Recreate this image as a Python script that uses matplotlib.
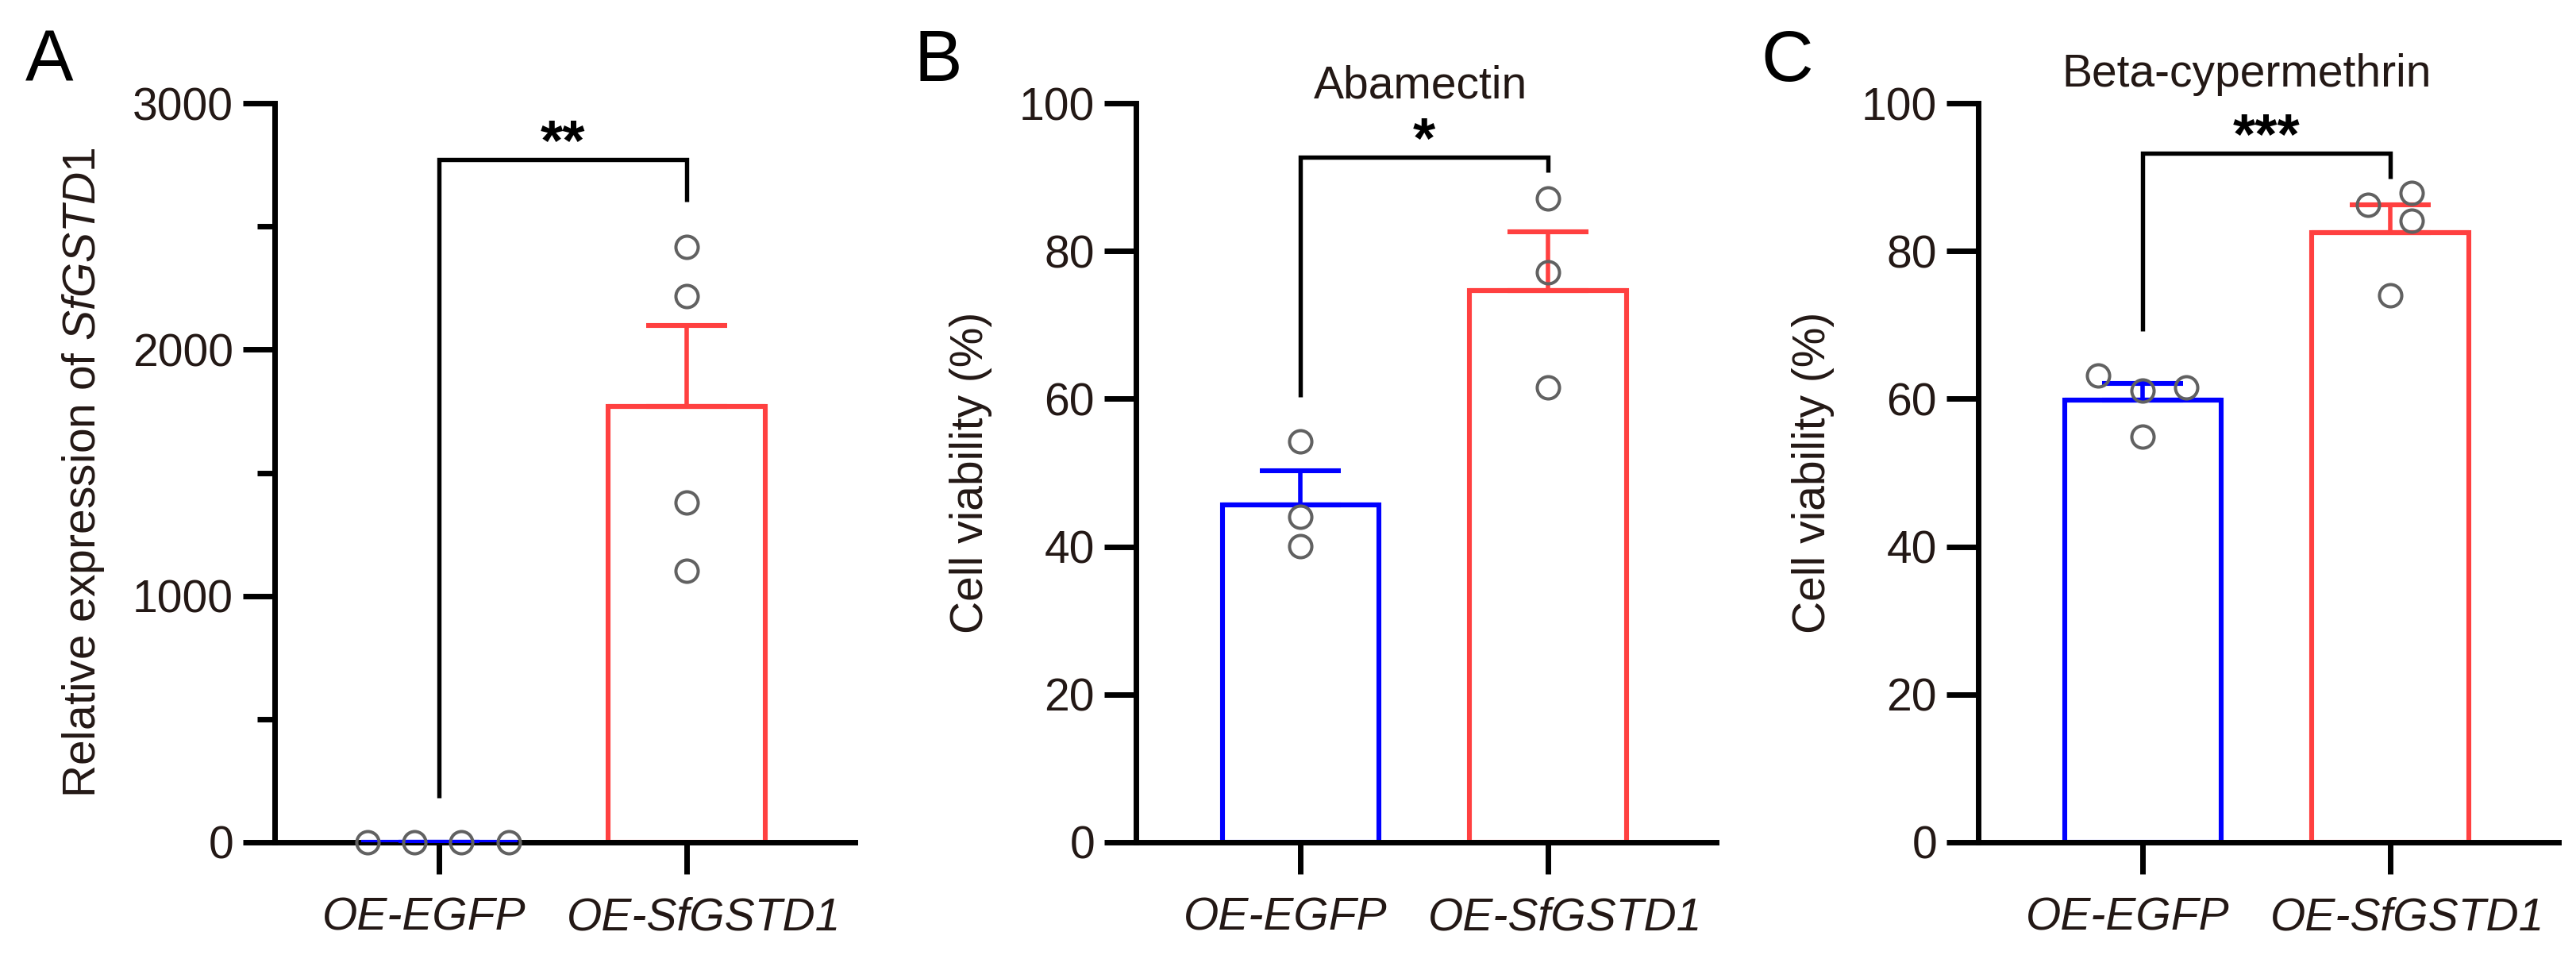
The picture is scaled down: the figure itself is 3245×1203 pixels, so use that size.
import matplotlib
matplotlib.use("Agg")
import matplotlib.pyplot as plt
from matplotlib.ticker import MultipleLocator

plt.rcParams['font.family'] = ['Liberation Sans', 'DejaVu Sans']
plt.rcParams['mathtext.fontset'] = 'custom'
plt.rcParams['mathtext.rm'] = 'Liberation Sans'
plt.rcParams['mathtext.it'] = 'Liberation Sans:italic'

# ---------------- data ----------------
groups = ["OE-EGFP", "OE-SfGSTD1"]

# Panel A: relative expression of SfGSTD1
a_means = [1.0, 1768.0]
a_sem = [0.0, 330.0]
a_egfp_pts = [1.0, 1.0, 1.0, 1.0]
a_sfg_pts = [2417.0, 2216.0, 1378.0, 1102.0]
a_bracket = [182.0, 2772.0, 2599.0]   # left end, top, right end
a_sig = "**"

# Panel B: Abamectin, cell viability (%)
b_means = [45.6, 74.7]
b_sem = [4.7, 7.9]
b_egfp_pts = [54.2, 44.0, 40.1]
b_sfg_pts = [87.1, 77.1, 61.5]
b_bracket = [60.3, 92.7, 90.7]
b_sig = "*"

# Panel C: Beta-cypermethrin, cell viability (%)
c_means = [59.8, 82.5]
c_sem = [2.3, 3.7]
c_egfp_pts = [63.2, 61.1, 61.6, 54.9]
c_sfg_pts = [86.2, 87.9, 84.1, 74.0]
c_bracket = [69.2, 93.2, 89.8]
c_sig = "***"

# ---------------- layout / style ----------------
W, H = 3245, 1203
DPI = 200
PT = 72.0 / DPI   # points per pixel
fig = plt.figure(figsize=(W / DPI, H / DPI), dpi=DPI)

TXT = '#231815'
BLUE = '#0000FF'
RED = '#FF4040'
PTC = '#616161'
FS = 20.5

ax_bottom = 1 - 1061 / H
ax_height = (1061 - 130) / H
ax_lefts = [346, 1431, 2492]
ax_width = 731 / W

# jitter offsets (layout only)
a_off = ([-0.29, -0.10, 0.09, 0.28], [0.0, 0.0, 0.0, 0.0])
b_off = ([0.0, 0.0, 0.0], [0.0, 0.0, 0.0])
c_off = ([-0.18, 0.0, 0.175, 0.0], [-0.09, 0.087, 0.087, 0.0])

# category label offsets in pixels (dx, baseline below axis)
label_dx_px = [-19, 22]
label_dy_px = 111

panels = [
    dict(means=a_means, sem=a_sem, pts=(a_egfp_pts, a_sfg_pts), off=a_off,
         br=a_bracket, sig=a_sig, ylim=3000, major=1000, minor=500,
         ylabel="Relative expression of $\\mathit{SfGSTD1}$", title=None, letter="A",
         letter_x=32),
    dict(means=b_means, sem=b_sem, pts=(b_egfp_pts, b_sfg_pts), off=b_off,
         br=b_bracket, sig=b_sig, ylim=100, major=20, minor=None,
         ylabel="Cell viability (%)", title=("Abamectin", 0.486, 100.7), letter="B",
         letter_x=1151),
    dict(means=c_means, sem=c_sem, pts=(c_egfp_pts, c_sfg_pts), off=c_off,
         br=c_bracket, sig=c_sig, ylim=100, major=20, minor=None,
         ylabel="Cell viability (%)", title=("Beta-cypermethrin", 0.42, 102.25), letter="C",
         letter_x=2218),
]

colors = [BLUE, RED]
xpos = [0, 1]
bw = 0.633

for p, left in zip(panels, ax_lefts):
    ax = fig.add_axes([left / W, ax_bottom, ax_width, ax_height])
    ax.set_xlim(-0.665, 1.68)
    ax.set_ylim(0, p['ylim'])
    for s in ['top', 'right']:
        ax.spines[s].set_visible(False)
    for s in ['left', 'bottom']:
        ax.spines[s].set_linewidth(2.5)
        ax.spines[s].set_color('black')

    # bars
    ax.bar(xpos, p['means'], width=bw, fill=False, edgecolor=colors,
           linewidth=2.2, zorder=2)
    ax.hlines(p['means'], [x - bw / 2 for x in xpos], [x + bw / 2 for x in xpos],
              colors=colors, linewidth=2.2, zorder=3)
    # error bars (upper only)
    for i in range(2):
        ax.errorbar(xpos[i], p['means'][i], yerr=[[0], [p['sem'][i]]], fmt='none',
                    ecolor=colors[i], elinewidth=2.0, capsize=18.4, capthick=2.2,
                    zorder=3)
    # points
    for i in range(2):
        xs = [xpos[i] + o for o in p['off'][i]]
        ax.plot(xs, p['pts'][i], linestyle='none', marker='o', markersize=10.1,
                markerfacecolor='none', markeredgecolor=PTC, markeredgewidth=1.45,
                zorder=4, clip_on=False)

    # significance bracket
    l, t, r = p['br']
    ax.plot([0, 0, 1, 1], [l, t, t, r], color='black', linewidth=1.95,
            solid_joinstyle='miter', solid_capstyle='butt', zorder=3, clip_on=False)
    ax.text(0.5, t, p['sig'], ha='center', va='baseline', fontsize=26,
            fontweight='bold', color='black', clip_on=False)

    # ticks
    ax.set_xticks(xpos)
    ax.tick_params(axis='x', labelbottom=False)
    for x, name, dx in zip(xpos, groups, label_dx_px):
        ax.annotate(name, xy=(x, 0), xycoords=('data', 'axes fraction'),
                    xytext=(dx * PT, -label_dy_px * PT), textcoords='offset points',
                    ha='center', va='baseline', fontsize=FS, fontstyle='italic',
                    color=TXT, annotation_clip=False)
    ax.yaxis.set_major_locator(MultipleLocator(p['major']))
    if p['minor']:
        ax.yaxis.set_minor_locator(MultipleLocator(p['minor']))
        ax.tick_params(axis='y', which='minor', length=7.9, width=2.5, color='black')
    ax.tick_params(axis='both', which='major', length=14.4, width=2.5, color='black',
                   labelsize=FS, labelcolor=TXT)
    ax.tick_params(axis='y', which='major', pad=4.3)

    ax.set_ylabel(p['ylabel'], fontsize=FS, color=TXT, labelpad=12)

    if p['title']:
        txt, tx, ty = p['title']
        ax.text(tx, ty, txt, ha='center', va='baseline', fontsize=FS, color=TXT,
                clip_on=False)

    fig.text(p['letter_x'] / W, 1 - 102 / H, p['letter'], fontsize=32.7,
             ha='left', va='baseline', color='black')

fig.savefig("out.png", dpi=DPI)
